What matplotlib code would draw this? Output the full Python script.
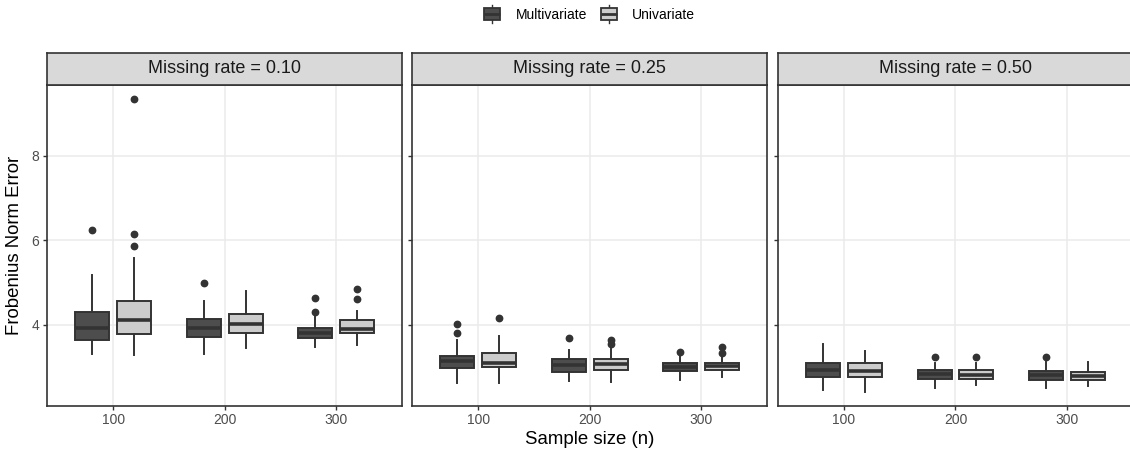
import matplotlib
matplotlib.use("Agg")
import matplotlib.pyplot as plt
from matplotlib.legend_handler import HandlerBase
from matplotlib.patches import Rectangle, Patch
from matplotlib.lines import Line2D

plt.rcParams['font.family'] = ['Liberation Sans', 'DejaVu Sans']

# ---------------- data ----------------
panels = ["Missing rate = 0.10", "Missing rate = 0.25", "Missing rate = 0.50"]
sample_sizes = [100, 200, 300]
methods = ["Multivariate", "Univariate"]

# per panel, per sample size: (whislo, q1, med, q3, whishi)
multi_stats = [
    [(3.31, 3.65, 3.93, 4.29, 5.17), (3.31, 3.71, 3.93, 4.13, 4.56), (3.47, 3.69, 3.81, 3.93, 4.22)],
    [(2.61, 2.97, 3.13, 3.27, 3.65), (2.66, 2.87, 3.05, 3.19, 3.40), (2.69, 2.90, 3.01, 3.09, 3.28)],
    [(2.46, 2.76, 2.93, 3.09, 3.54), (2.50, 2.72, 2.83, 2.94, 3.10), (2.50, 2.69, 2.80, 2.91, 3.12)],
]
uni_stats = [
    [(3.29, 3.78, 4.10, 4.56, 5.57), (3.46, 3.80, 4.02, 4.25, 4.80), (3.52, 3.80, 3.89, 4.10, 4.32)],
    [(2.61, 2.99, 3.10, 3.34, 3.73), (2.65, 2.93, 3.06, 3.18, 3.44), (2.77, 2.93, 3.02, 3.10, 3.24)],
    [(2.42, 2.76, 2.91, 3.09, 3.39), (2.57, 2.72, 2.82, 2.93, 3.10), (2.54, 2.69, 2.79, 2.89, 3.11)],
]
multi_fliers = [
    [[6.25], [4.99], [4.64, 4.29]],
    [[4.02, 3.80], [3.68], [3.36]],
    [[], [3.24], [3.24]],
]
uni_fliers = [
    [[9.34, 6.14, 5.86], [], [4.84, 4.60]],
    [[4.17], [3.65, 3.54], [3.47, 3.33]],
    [[], [3.24], []],
]

y_ticks = [4, 6, 8]
x_limits = (40.5, 359.0)
y_limits = (2.085, 9.667)

# ---------------- style ----------------
fills = {"Multivariate": "#4D4D4D", "Univariate": "#CCCCCC"}
edge = "#333333"
grid_c = "#EBEBEB"
W, H = 1130, 455
fig = plt.figure(figsize=(W / 100, H / 100), dpi=100)

dodge = 18.7
box_w = 30.5

panel_lefts_px = [47, 412, 777.7]
panel_w_px = 355
top_px, bot_px = 85, 405.7
strip_top_px = 52.7


def stat_dicts(stats, fliers):
    out = []
    for (lo, q1, med, q3, hi), fl in zip(stats, fliers):
        out.append(dict(whislo=lo, q1=q1, med=med, q3=q3, whishi=hi, fliers=fl))
    return out


for i, title in enumerate(panels):
    lp = panel_lefts_px[i]
    ax = fig.add_axes([lp / W, 1 - bot_px / H, panel_w_px / W, (bot_px - top_px) / H])
    ax.set_xlim(*x_limits)
    ax.set_ylim(*y_limits)
    ax.set_xticks(sample_sizes)
    ax.set_yticks(y_ticks)
    ax.grid(True, color=grid_c, linewidth=1.1)
    ax.set_axisbelow(True)
    for s in ax.spines.values():
        s.set_color(edge)
        s.set_linewidth(1.2)
    ax.tick_params(axis='both', colors=edge, length=3, width=1.0, labelcolor="#4D4D4D",
                   labelsize=10, pad=2.5)
    if i > 0:
        ax.tick_params(axis='y', labelleft=False)

    for m, stats, fl, sgn in [("Multivariate", multi_stats[i], multi_fliers[i], -1),
                              ("Univariate", uni_stats[i], uni_fliers[i], 1)]:
        pos = [n + sgn * dodge for n in sample_sizes]
        ax.bxp(stat_dicts(stats, fl), positions=pos, widths=box_w, patch_artist=True,
               manage_ticks=False, showcaps=False,
               boxprops=dict(facecolor=fills[m], edgecolor=edge, linewidth=1.4),
               medianprops=dict(color=edge, linewidth=2.6, solid_capstyle='butt'),
               whiskerprops=dict(color=edge, linewidth=1.4),
               flierprops=dict(marker='o', markerfacecolor=edge, markeredgecolor=edge,
                               markersize=4.6, linestyle='none'))

    # strip
    sax = fig.add_axes([lp / W, 1 - top_px / H, panel_w_px / W, (top_px - strip_top_px) / H])
    sax.set_facecolor("#D9D9D9")
    sax.set_xticks([])
    sax.set_yticks([])
    for s in sax.spines.values():
        s.set_color(edge)
        s.set_linewidth(1.2)
    sax.text(0.5, 0.5, title, transform=sax.transAxes, ha='center', va='center',
             fontsize=13, color="#1A1A1A")
    if i == 2:
        # the reference is cropped on the right: push the right border off-canvas
        for a in (ax, sax):
            a.spines['right'].set_visible(False)

fig.text(589.5 / W, 0.035, "Sample size (n)", ha='center', va='center', fontsize=13.4, color='black')
fig.text(15 / W, 1 - 245 / H, "Frobenius Norm Error", ha='center', va='center',
         rotation=90, fontsize=13.4, color='black')


class HandlerBox(HandlerBase):
    def create_artists(self, legend, orig_handle, xdescent, ydescent, width, height,
                       fontsize, trans):
        x0, y0 = -xdescent, -ydescent
        cx = x0 + width / 2
        bh = height * 0.62
        by = y0 + (height - bh) / 2
        wl1 = Line2D([cx, cx], [y0, by], color=edge, lw=1.0, transform=trans)
        wl2 = Line2D([cx, cx], [by + bh, y0 + height], color=edge, lw=1.0, transform=trans)
        r = Rectangle((x0, by), width, bh, facecolor=orig_handle.get_facecolor(),
                      edgecolor=edge, lw=1.3, transform=trans)
        med = Line2D([x0, x0 + width], [y0 + height / 2] * 2, color=edge, lw=2.0,
                     transform=trans, solid_capstyle='butt')
        return [wl1, wl2, r, med]


handles = [Patch(facecolor=fills[m], edgecolor=edge) for m in methods]
fig.legend(handles, methods, loc='center', bbox_to_anchor=(0.522, 1 - 14 / H), ncol=2,
           frameon=False, fontsize=10, handlelength=1.15, handleheight=1.7,
           handletextpad=1.1, columnspacing=1.0,
           handler_map={Patch: HandlerBox()})

fig.savefig("out.png", dpi=100)
